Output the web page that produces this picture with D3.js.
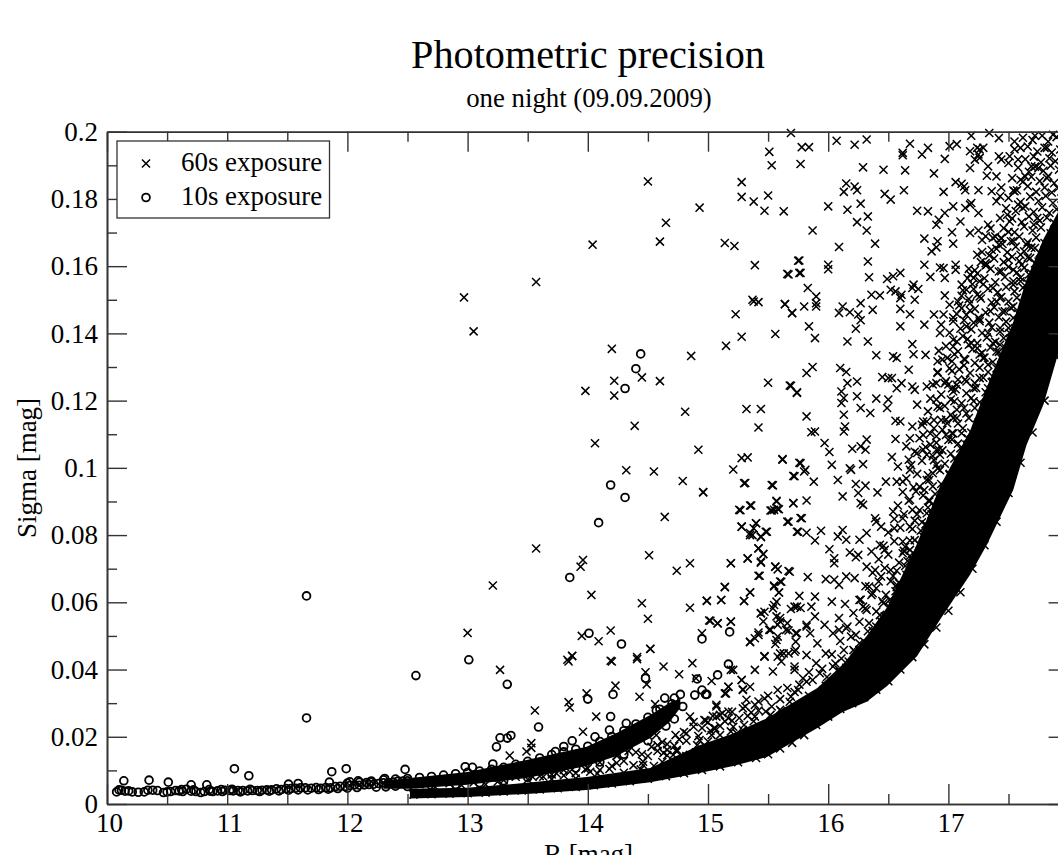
<!DOCTYPE html>
<html lang="en">
<head>
<meta charset="UTF-8">
<title>Photometric precision</title>
<script src="https://d3js.org/d3.v7.min.js"></script>
<style>
  body { margin: 0; background: #fff; overflow: hidden; }
  text { font-family: "Liberation Serif", serif; fill: #000; }
</style>
</head>
<body>
<script>
// tick values
var xMajor = [10,11,12,13,14,15,16,17,18];
var xMinor = [10.5,11.5,12.5,13.5,14.5,15.5,16.5,17.5];
var yMajor = [0,0.02,0.04,0.06,0.08,0.1,0.12,0.14,0.16,0.18,0.2];
var yMinor = [0.01,0.03,0.05,0.07,0.09,0.11,0.13,0.15,0.17,0.19];

// the solid black ridges can't be split into single stars, so only their edges are read off the picture
var band60Mag  = [12.52,12.995,13.49,13.99,14.52,14.93,15.21,15.49,15.91,16.12,16.32,16.49,16.74,16.93,17.18,17.32,17.54,17.65,17.79,17.91,18.05];
var band60Low  = [.0016,.0021,.003,.0042,.0065,.0092,.0113,.014,.0226,.0274,.0304,.0351,.044,.0548,.0682,.0771,.0935,.1068,.1188,.1336,.15];
var band60High = [.0045,.0048,.0063,.008,.0107,.0175,.021,.0255,.0345,.0415,.05,.0585,.0775,.0945,.111,.124,.1435,.156,.168,.176,.185];
var band10Mag  = [12.3,12.52,13.0,13.49,13.99,14.24,14.52,14.68,14.77];
var band10Low  = [.0045,.0045,.0057,.0077,.0113,.0143,.0196,.0244,.0286];
var band10High = [.0068,.0077,.0095,.0131,.017,.0211,.0265,.0301,.0313];

// 60s exposure, lower rim of the ridge
var rim60 = [[12.55,.0028],[12.7,.0029],[12.85,.0031],[13,.0032],[13.15,.0034],[13.3,.0037],[13.45,.004],[13.6,.0043],[13.75,.0047],[13.9,.0051],[14.05,.0056],[14.2,.0061],[14.35,.0068],[14.5,.0075],[14.65,.0083],[14.8,.0092],[14.95,.0101],[15.1,.0112],[15.25,.0124],[15.4,.0137],[15.5,.0148],[15.6,.0165],[15.7,.0182],[15.8,.0205],[15.9,.0235],[16,.026],[16.1,.0283],[16.2,.03],[16.3,.0318],[16.4,.034],[16.5,.0365],[16.6,.04],[16.7,.0437],[16.8,.0475],[16.9,.0525],[17,.0575],[17.1,.063],[17.2,.07],[17.3,.077],[17.4,.084],[17.5,.0925],[17.6,.1015],[17.7,.1105],[17.8,.12],[17.9,.133]];

// 60s exposure, crowded hatching just above the ridge, estimated
var crowd60 = [
[17.62,.1982],[17.7,.1975],[17.78,.1988],[17.83,.1971],[17.9,.1984],[17.95,.1969],[17.55,.1948],[17.66,.1956],[17.74,.1941],[17.8,.1952],[17.86,.1938],[17.93,.1947],[17.64,.1918],[17.71,.1926],[17.77,.1909],[17.84,.1921],[17.89,.1912],[17.96,.1925],[17.58,.1893],[17.67,.1881],[17.72,.1896],[17.79,.1884],[17.85,.1899],[17.92,.1887],
[17.53,.1862],[17.62,.1851],[17.69,.1866],[17.76,.1853],[17.83,.1868],[17.88,.1847],[17.95,.1859],[17.57,.1826],[17.66,.1838],[17.73,.1821],[17.8,.1834],[17.86,.1819],[17.91,.1832],[17.5,.1803],[17.6,.1791],[17.68,.1807],[17.75,.1794],[17.81,.1809],[17.87,.1788],[17.94,.1801],
[17.48,.1772],[17.56,.1764],[17.64,.1778],[17.71,.1761],[17.78,.1775],[17.84,.1758],[17.9,.1769],[17.53,.1742],[17.61,.1731],[17.67,.1748],[17.76,.1735],[17.82,.1744],[17.88,.1729],[17.46,.1713],[17.55,.1701],[17.63,.1718],[17.7,.1706],[17.77,.1715],[17.85,.1698],
[17.44,.1682],[17.52,.1674],[17.59,.1688],[17.66,.1671],[17.73,.1685],[17.8,.1669],[17.4,.1652],[17.49,.1641],[17.56,.1658],[17.63,.1644],[17.69,.1655],[17.76,.1639],[17.38,.1623],[17.46,.1612],[17.53,.1628],[17.59,.1615],[17.66,.1626],[17.72,.1608],
[17.35,.1592],[17.42,.1584],[17.5,.1598],[17.57,.1581],[17.63,.1595],[17.69,.1579],[17.3,.1564],[17.39,.1552],[17.47,.1568],[17.54,.1555],[17.6,.1566],[17.66,.1549],[17.33,.1533],[17.41,.1522],[17.48,.1538],[17.55,.1525],[17.62,.1536],
[17.27,.1504],[17.36,.1492],[17.44,.1508],[17.5,.1495],[17.57,.1506],[17.22,.1473],[17.31,.1462],[17.38,.1478],[17.45,.1465],[17.52,.1476],[17.58,.1459],[17.26,.1443],[17.34,.1432],[17.42,.1448],[17.48,.1435],[17.54,.1446],
[17.19,.1412],[17.28,.1401],[17.36,.1418],[17.43,.1405],[17.5,.1416],[17.16,.1383],[17.24,.1371],[17.32,.1388],[17.39,.1375],[17.46,.1386],[17.52,.1369],[17.2,.1353],[17.28,.1342],[17.35,.1358],[17.42,.1345],[17.48,.1356],
[17.13,.1324],[17.22,.1312],[17.3,.1328],[17.37,.1315],[17.44,.1326],[17.09,.1293],[17.18,.1282],[17.26,.1298],[17.33,.1285],[17.4,.1296],[17.46,.1279],[17.14,.1263],[17.22,.1252],[17.29,.1268],[17.36,.1255],[17.42,.1266],
[17.06,.1234],[17.15,.1222],[17.23,.1238],[17.31,.1225],[17.38,.1236],[17.02,.1203],[17.11,.1192],[17.19,.1208],[17.26,.1195],[17.33,.1206],[17.39,.1189],[17.07,.1173],[17.15,.1162],[17.22,.1178],[17.29,.1165],[17.35,.1176],
[16.98,.1144],[17.08,.1132],[17.17,.1148],[17.25,.1135],[17.31,.1146],[16.95,.1113],[17.04,.1102],[17.12,.1118],[17.19,.1105],[17.26,.1116],[17,.1083],[17.08,.1072],[17.16,.1088],[17.22,.1075],
[16.92,.1054],[17.02,.1042],[17.1,.1058],[17.17,.1045],[17.22,.1056],[16.88,.1023],[16.97,.1012],[17.05,.1028],[17.13,.1015],[17.18,.1026],[16.93,.0993],[17.01,.0982],[17.08,.0998],[17.14,.0985],
[16.84,.0964],[16.94,.0952],[17.02,.0968],[17.09,.0955],[16.8,.0934],[16.89,.0922],[16.97,.0938],[17.04,.0925],[16.84,.0904],[16.92,.0892],[16.99,.0908],[17.05,.0895],
[16.76,.0874],[16.86,.0862],[16.93,.0878],[17,.0865],[16.72,.0843],[16.81,.0832],[16.88,.0848],[16.94,.0835],[16.77,.0813],[16.84,.0802],[16.9,.0818],
[16.68,.0784],[16.76,.0772],[16.83,.0788],[16.88,.0775],[16.63,.0753],[16.72,.0742],[16.79,.0758],[16.85,.0745],[16.66,.0723],[16.74,.0712],[16.8,.0728],
[16.57,.0694],[16.65,.0682],[16.72,.0698],[16.76,.0685],[16.52,.0663],[16.61,.0652],[16.68,.0668],[16.73,.0655],[16.56,.0633],[16.63,.0622],[16.69,.0638],
[16.45,.0604],[16.53,.0592],[16.6,.0608],[16.66,.0595],[16.4,.0573],[16.49,.0562],[16.56,.0578],[16.61,.0565],[16.44,.0543],[16.52,.0532],[16.57,.0548],
[16.33,.0514],[16.41,.0502],[16.48,.0518],[16.53,.0505],[16.3,.0483],[16.38,.0472],[16.45,.0488],[16.49,.0475],[16.22,.0454],[16.31,.0442],[16.39,.0458],[16.44,.0445],
[16.17,.0424],[16.27,.0412],[16.34,.0428],[16.39,.0415],[16.1,.0393],[16.2,.0382],[16.28,.0398],[16.33,.0385],[15.82,.0364],[15.98,.0352],[16.08,.0368],[16.17,.0355],[16.24,.0366],
[15.72,.0333],[15.84,.0322],[15.96,.0338],[16.05,.0325],[16.12,.0336],[15.68,.0304],[15.76,.0292],[15.84,.0308],[15.92,.0295],[16.02,.0306],
[15.2,.0274],[15.33,.0262],[15.42,.0278],[15.52,.0265],[15.61,.0276],[15.7,.0262],[15.79,.0278],[15.87,.0265],[15,.0243],[15.1,.0232],[15.2,.0248],[15.3,.0235],[15.38,.0246],[15.47,.0232],[15.56,.0248],[15.66,.0235],[15.76,.0246],
[14.8,.0214],[14.92,.0202],[15.02,.0218],[15.1,.0205],[15.19,.0216],[15.3,.0204],[15.42,.0218],[15.5,.0205],[14.62,.0184],[14.72,.0173],[14.82,.0188],[14.91,.0175],[15,.0186],[15.12,.0174],[15.2,.0188],[15.3,.0176],
[14.4,.0154],[14.5,.0143],[14.58,.0158],[14.66,.0145],[14.74,.0156],[14.82,.0143],[14.9,.0154],[14.1,.0124],[14.2,.0113],[14.3,.0128],[14.38,.0115],[14.46,.0126],[14.55,.0113],[14.62,.0125],[14.7,.0114],
[13.6,.0098],[13.7,.0088],[13.8,.0101],[13.9,.0092],[13.98,.0103],[14.08,.0091],[14.18,.0104],[14.3,.0093],[14.44,.0103],[13.2,.0078],[13.3,.0071],[13.4,.0081],[13.5,.0073],[13.6,.0083],[13.7,.0074],[13.8,.0085],[13.9,.0076],
[12.6,.0059],[12.72,.0054],[12.85,.0062],[12.95,.0056],[13.05,.0064],[13.15,.0058],[13.25,.0066],
[17.43,.1743],[17.35,.1712],[17.28,.1678],[17.36,.1648],[17.24,.1634],[17.31,.1602],[17.17,.1592],[17.24,.1578],[17.2,.1546],[17.12,.1528],[17.17,.1502],[17.09,.1483],[17.15,.1455],[17.04,.1447],[17.1,.1414],[17.01,.1402],[17.07,.1376],[16.98,.1362],[17.05,.1338],[16.95,.1322],[17.01,.1296],[16.91,.1285],[16.98,.1258],[16.87,.1248],[16.94,.1218],[16.85,.1206],[16.91,.1182],[16.83,.1168],[16.88,.1142],[16.78,.1128],[16.85,.1102],[16.76,.1088],[16.81,.1062],[16.72,.1048],[16.78,.1021],[16.69,.1008],[16.74,.0982],[16.65,.0968],[16.71,.0942],[16.62,.0928],[16.67,.0902],[16.58,.0888],[16.63,.0862],[16.55,.0848],[16.6,.0822],[16.5,.0808],[16.55,.0782],[16.46,.0768],[16.5,.0742],[16.42,.0728],[16.47,.0702],[16.37,.0688],[16.42,.0662],[16.31,.0648],[16.36,.0622],[16.27,.0608],[16.31,.0582],[16.21,.0568],[16.26,.0542],[16.16,.0528],[16.19,.0498],[16.1,.0485],[16.13,.0458],[16.03,.0445],[16.06,.0418],[15.95,.0402],[15.99,.0378],[15.84,.0392],[15.76,.0355],[15.66,.0345],[15.6,.0312],[15.5,.0322],[15.42,.0305],[15.36,.0272],[15.26,.0256],[15.14,.0246],[15.04,.0262],[14.95,.0226],[14.88,.0244],[14.76,.0192],[14.66,.0178],
[17.5,.1702],[17.45,.1666],[17.39,.1688],[17.34,.1632],[17.27,.1612],[17.22,.1588],[17.29,.1546],[17.21,.1532],[17.16,.1564],[17.11,.1512],[17.18,.1468],[17.13,.1439],[17.07,.1458],[17.21,.1432],[17.12,.1392],[17.17,.1366],[17.08,.1346],[17.13,.1305],[17.03,.1288],[17.08,.1262],[17.0,.1248],[17.05,.1198],[16.97,.1184],[17.02,.1158],[16.94,.1142],[16.98,.1098],[16.9,.1075],[16.95,.1052],[16.87,.1035],[16.91,.0998],[16.83,.0978],[16.87,.0945],[16.79,.0918],[16.83,.0882],[16.74,.0862],[16.78,.0838],[16.7,.0818],[16.72,.0785],[16.64,.0765],[16.68,.0738],[16.59,.0718],[16.64,.0708],[16.54,.0678],[16.57,.0645],[16.48,.0622],[16.51,.0585],[16.43,.0562],[16.46,.0535],[16.37,.0515],[16.34,.0472],[16.26,.0458],[16.25,.0425],[16.15,.0405],[16.12,.0382]
];

// 60s exposure, single stars
var stars60 = [
[12.97,.1507],[13.05,.1406],[13.57,.1553],[14.04,.1664],[14.5,.1852],[14.65,.1729],[14.6,.1673],[14.93,.1774],[15.28,.185],[15.28,.1806],[15.38,.1792],[15.5,.181],[15.47,.1765],[15.63,.1763],[15.51,.194],[15.53,.19],[15.69,.1996],[15.14,.1669],[15.22,.166],[15.39,.1603],[15.66,.1577],[15.75,.1616],[15.76,.158],[15.37,.15],[15.38,.1495],[15.42,.1493],[15.64,.1487],[15.7,.146],[15.23,.1457],[15.28,.139],[15.15,.1363],[15.56,.1398],[14.86,.1333],[14.2,.1354],[14.22,.1259],[14.22,.1215],[14.45,.1269],[14.6,.1258],[13.98,.1229],[14.81,.1167],[14.39,.1125],[15.5,.1253],[15.69,.1244],[15.74,.1223],[15.32,.1175],[15.44,.1175],[15.42,.112],
[14.06,.1073],[14.92,.1054],[15.28,.1029],[15.33,.1031],[15.62,.1024],[15.76,.1015],[15.21,.0995],[14.32,.0993],[14.55,.0989],[14.79,.0961],[15.31,.0955],[15.72,.0975],[15.54,.0948],[14.96,.0928],[15.57,.0902],[15.27,.0874],[15.36,.0888],[15.52,.0873],[15.55,.0875],[15.59,.0877],[15.71,.0895],[14.64,.0854],[15.67,.084],[15.77,.0851],[15.28,.0825],[15.4,.0835],[15.38,.082],[15.35,.08],[15.37,.08],[15.49,.081],[15.44,.0794],[15.74,.081],[13.57,.076],[13.96,.0726],[13.94,.0706],[14.51,.074],[14.85,.0716],[14.74,.0694],[15.19,.0716],[15.33,.073],[15.42,.076],[15.46,.0743],[15.44,.0718],[15.56,.0706],[15.58,.0698],[15.68,.0691],[15.43,.0679],[15.55,.065],[15.61,.0661],[15.59,.0629],[15.14,.0646],[13.21,.065],[14.03,.0622],[14.45,.0597],[14.99,.0605],[15.11,.0607],[15.3,.0604],[15.35,.063],[14.85,.0584],[14.5,.0551],[15.57,.0602],[15.54,.0582],[15.44,.0568],[15.47,.0572],[15.69,.058],[15.74,.0587],[15.77,.0583],[15.02,.0545],[15.08,.0537],[15.19,.0543],[15.46,.0543],[15.6,.0553],[15.58,.0533],[15.52,.0518],[15.67,.0516],[13,.0509],[13.95,.05],[14.19,.0516],[14.09,.0484],[14.52,.0462],[14.95,.0508],[15.42,.051],[15.39,.0493],[15.35,.0481],[15.58,.0498],[15.56,.0476],[15.74,.0508],[15.73,.0483],[13.87,.044],[13.83,.0429],[14.19,.0426],[14.41,.0437],[15.47,.044],[15.63,.0448],[15.67,.0448],[15.73,.0458],[15.58,.0438],
[13.27,.0399],[13.56,.0278],[13.53,.0181],[13.53,.0167],[13.49,.0156],[13.35,.0144],[13.84,.0424],[13.87,.0441],[13.84,.0303],[13.85,.0287],[13.99,.0329],[14.07,.026],[14.2,.0424],[14.41,.0431],[14.52,.0461],[14.63,.0409],[14.87,.0419],[14.76,.0386],[14.48,.0392],[14.49,.0356],[14.23,.0352],[14.43,.0319],[13.96,.0215],[14.56,.0297],[14.9,.0374],[15.03,.0366],[15.17,.0349],[15.15,.0329],[15.19,.0399],[15.28,.0369],[15.29,.0341],[15.07,.0295],[15.17,.0275],[15.1,.0265],[15.31,.029],[14.85,.026],[14.88,.023],[14.82,.021],[14.73,.0205],[14.98,.0248],[15.06,.0225],[14.93,.019],[14.98,.017],[14.57,.0205],[14.53,.017],[14.58,.0175],[14.45,.0148],[14.34,.0158],[14.24,.0144],[14.63,.0152],[14.66,.0161],[14.71,.0146],[14.85,.0146],[14.74,.0161],[14.46,.0116],[14,.0106],[14.1,.0101],[14.02,.0096],[13.85,.0096],[13.74,.0091],[13.63,.0081],[13.54,.0081],[14.24,.0122],[14.25,.0146],
[15.78,.1954],[15.84,.1954],[15.77,.1904],[16.07,.1973],[16.22,.1961],[16.32,.1977],[16.68,.1964],[16.62,.1937],[16.62,.193],[16.78,.1932],[16.83,.1952],[17.01,.1957],[17.07,.1963],[17.19,.1988],[17.34,.1996],[17.42,.1981],[17.55,.1971],[17.72,.1988],[17.87,.1991],[16.97,.1919],[17.18,.1942],[17.24,.1952],[17.26,.1947],[17.29,.1952],[17.25,.1932],[17.26,.1922],[17.22,.1917],[17.18,.1892],[17.33,.1897],[17.32,.1869],[17.4,.1867],[17.42,.1927],[17.44,.1917],[17.51,.1927],[17.5,.1907],[17.6,.1952],[17.58,.1917],[16.29,.1894],[16.46,.1887],[16.64,.1885],[16.88,.1876],[16.15,.1846],[16.13,.1821],[16.22,.1837],[16.24,.1826],[16.47,.1815],[16.52,.1798],[16.63,.1826],[16.96,.1821],[17.06,.185],[17.11,.1845],[17.13,.1837],[17.14,.1826],[17.25,.1826],[17.36,.1823],[17.44,.1834],[17.43,.1808],[17.4,.1793],[17.54,.1825],[17.55,.1823],[17.6,.1857],[17.64,.1867],[17.69,.1897],[17.75,.1892],[17.82,.1952],[17.82,.1862],[16,.1778],[16.16,.1768],[16.27,.1786],[16.33,.1748],[16.24,.1731],[16.32,.1706],[16.39,.1667],[16.09,.1657],[15.87,.1706],
[16.74,.1765],[16.83,.1763],[16.92,.1738],[16.97,.1758],[16.9,.1723],[17.04,.1778],[17.18,.1783],[17.19,.1788],[17.25,.1758],[17.14,.1773],[17.1,.1733],[17.03,.1701],[17.18,.1699],[17.25,.1706],[17.31,.1689],[17.37,.1684],[17.33,.1723],[17.44,.1684],[17.49,.1753],[17.51,.1733],[17.58,.1783],[17.62,.1773],[17.74,.1743],[17.71,.1723],[16.8,.1682],[16.91,.1674],[16.9,.1656],[16.86,.1644],[17.04,.1667],[17.28,.1642],[17.42,.1664],[17.54,.1674],[17.65,.1664],[17.6,.1634],[17.72,.1654],[15.76,.1617],[15.67,.1575],[15.77,.158],[16,.1604],[16,.1591],[16.33,.1614],[16.34,.1567],[16.49,.1562],[16.54,.157],[16.6,.158],[16.52,.153],[16.56,.1525],[16.61,.1515],[16.6,.1505],[16.71,.1545],[16.75,.1532],[16.72,.15],[16.7,.1535],[16.8,.1604],[16.85,.1568],[16.93,.1596],[16.96,.1594],[16.97,.1565],[17.06,.1604],[17.06,.1589],[16.97,.1513],[17.18,.1575],[17.21,.1565],[17.26,.1555],[17.11,.1545],[17.15,.153],[17.24,.1515],[17.26,.151],[17.32,.1604],[17.31,.1609],[17.44,.1585],[17.5,.1619],[17.54,.1589],[17.37,.1535],[17.43,.1505],[17.54,.1545],[17.61,.1604],[17.67,.1575],[17.68,.1624],[17.75,.1614],[17.6,.1555],
[15.83,.1535],[15.9,.151],[15.9,.149],[15.9,.148],[15.64,.1487],[15.8,.148],[15.7,.1461],[16.09,.1461],[16.12,.148],[16.18,.1463],[16.27,.149],[16.25,.1456],[16.27,.1439],[16.37,.147],[16.36,.1515],[16.43,.1513],[16.6,.1473],[16.68,.1457],[16.6,.1421],[16.23,.1414],[15.84,.1421],[15.89,.1386],[16.16,.1376],[16.33,.1376],[17.01,.1485],[17.08,.1495],[17.11,.1475],[16.88,.1456],[16.8,.1426],[16.96,.1456],[16.94,.1426],[16.93,.1401],[17.04,.1436],[17.15,.1421],[17.25,.1446],[17.26,.1436],[17.18,.149],[17.35,.1466],[17.4,.1495],[17.47,.1466],[17.54,.148],[17.62,.149],[17.33,.1401],[17.37,.1371],[17.43,.1416],[17.51,.1401],[17.43,.1366],[17.49,.1337],[16.7,.1368],[16.71,.1338],[16.81,.1336],[16.57,.1327],[16.54,.1332],[16.4,.1335],[17.04,.1381],[17.04,.1361],[17.19,.1371],[17.24,.1356],[17.26,.1337],[17.14,.1322],[16.92,.1348],[16.91,.1317],[16.99,.1327],[17.03,.1317],[17.29,.1327],[17.33,.1307],[17.4,.1346],[17.46,.1307],[16.1,.1297],[16.15,.1285],[15.87,.13],[15.82,.1282],[16.16,.1252],[16.24,.1257],[15.68,.1245],[15.74,.1225],[16.45,.127],[16.5,.1267],[16.53,.1267],[16.57,.1237],[16.61,.1252],[16.67,.1292],[16.7,.1242],[16.72,.1232],[16.82,.1242],[16.91,.1282],[16.9,.1252],[16.97,.1252],[17.03,.1237],[17.07,.1247],[17.04,.1227],[17.15,.1257],[17.21,.1237],[17.26,.1267],[17.33,.1237],[17.37,.1257],[17.43,.1277],
[16.11,.1227],[16.13,.1208],[16.11,.1193],[16.24,.1213],[16.27,.1178],[16.13,.1158],[16.4,.1206],[16.49,.1178],[16.35,.1163],[16.5,.1203],[16.74,.1188],[16.9,.1203],[16.93,.1178],[16.82,.1138],[16.99,.1133],[17.07,.1148],[15.82,.1153],[15.86,.1106],[15.89,.1108],[16.14,.1123],[16.13,.1108],[15.97,.1074],[16.01,.1047],[16.2,.1057],[16.27,.1064],[16.31,.1054],[16.32,.1084],[16.56,.114],[16.6,.1138],[16.7,.1123],[16.68,.1088],[16.56,.1086],[16.65,.1064],[16.79,.1138],[16.79,.1098],[16.88,.1118],[16.9,.1094],[17.03,.1084],[17.03,.1103],[17.04,.1148],[17.13,.1178],[17.21,.1198],[17.24,.1128],[17.15,.1069],[17.11,.1103],[16.79,.1054],[16.85,.1069],[16.9,.1054],[16.82,.1039],[16.74,.1044],[16.93,.1039],[16.53,.1032],[16.67,.1024],[16.58,.1004],[16.9,.1009],[15.62,.1026],[15.77,.1014],[15.81,.0994],[16.03,.1009],[16.18,.0999],[16.29,.1011],[17.07,.1019],[17.15,.1044],[17.21,.1029],[17.26,.1088],[17.32,.1128],[17.4,.1168],[17.26,.1009],[17.37,.1029],
[15.71,.0976],[15.8,.0989],[15.88,.0959],[16.08,.0964],[16.19,.0994],[15.3,.0954],[15.53,.0949],[14.96,.0927],[16.23,.0952],[16.31,.0947],[16.25,.0925],[16.12,.0915],[16.41,.0927],[16.48,.0959],[16.57,.0959],[16.62,.0959],[16.68,.0994],[16.76,.0944],[16.82,.0964],[16.87,.0984],[17.01,.0979],[17.12,.0964],[16.73,.093],[16.84,.09],[16.68,.0905],[16.91,.0885],[16.98,.092],[17.07,.0925],[15.26,.0875],[15.35,.0888],[15.57,.09],[15.53,.0873],[15.58,.0878],[15.71,.0895],[15.82,.0903],[16.27,.0895],[16.29,.089],[15.66,.084],[15.78,.085],[15.28,.0825],[15.4,.0835],[15.35,.0806],[15.48,.081],[15.44,.0796],[15.75,.081],[15.82,.0807],[15.89,.0784],[15.94,.0813],[16.12,.0815],[16.08,.0796],[16.15,.0786],[16.26,.0786],[16.32,.0806],[16.39,.085],[16.44,.0825],[16.54,.087],[16.55,.082],[16.4,.084],[16.62,.085],[16.68,.0825],[16.7,.0875],[16.82,.0865],[16.84,.0825],[16.9,.0835],[16.79,.0796],[16.62,.0781],[16.68,.0756],[16.82,.0761],[16.43,.0771],[16.47,.0756],[16.36,.0751],[16.01,.0758],[16.05,.0731],[16.05,.0716],[16.18,.0748],[16.25,.0741],[16.23,.0734],[15.42,.0761],[15.46,.0744],[15.44,.0721],[15.33,.0731],[15.19,.0716],[15.42,.0679],[15.56,.0706],[15.67,.0693],[15.83,.0675],[15.6,.0662],[15.55,.0647],
[15.98,.0669],[16.05,.0667],[16.15,.0677],[16.22,.0672],[16.09,.0652],[16.32,.0706],[16.39,.0696],[16.44,.0677],[16.52,.0696],[16.57,.0652],[16.62,.0746],[16.7,.0726],[15.14,.0645],[14.99,.0604],[15.11,.0607],[15.3,.0604],[15.35,.0629],[15.59,.0629],[15.76,.0619],[15.89,.0617],[16.03,.0602],[16.14,.0595],[16.26,.0607],[16.34,.0647],[16.4,.0642],[16.37,.0627],[16.46,.0597],[16.29,.0587],[16.32,.0577],[16.51,.0607],[16.59,.0657],[16.66,.0637],[15.55,.0592],[15.44,.0567],[15.72,.0587],[15.86,.0587],[15.89,.0558],[15.57,.0558],[15.66,.0538],[15.82,.0533],[15.97,.0533],[16.09,.0553],[16.15,.0523],[16.09,.0518],[16.34,.0538],[16.47,.0558],[16.54,.0577],[16.4,.0528],[16.23,.0503],[15.01,.0546],[15.08,.0538],[15.19,.0542],[15.35,.0483],[15.42,.0503],[15.51,.0518],[15.6,.0543],[15.65,.0518],[15.73,.0508],[15.57,.0488],[15.82,.0528],[15.91,.0478],[16.04,.0508],[16.26,.0478],[16.21,.0458],[15.85,.0508],[15.47,.0438],[15.6,.0448],[15.72,.0453],[15.82,.0443],[15.98,.0448],[16.11,.0433],[16.23,.0419],[15.61,.0424],[15.72,.0409],[16.04,.0409],[15.9,.0419],[15.39,.0399],[15.54,.0394],[15.21,.0399],[15.28,.0369],[15.35,.0349],[15.29,.0339],[15.17,.0349],[15.14,.0329],[15.58,.0339],[15.72,.0399],[15.79,.0374],[15.87,.0369],[15.93,.0389],[16.09,.0399],[16.07,.0369],[15.69,.0319],[15.75,.0339],[15.32,.031],[15.47,.0314],[15.39,.0295],[15.29,.0285],[15.07,.029],[15.12,.027],[15.17,.0255],[15.07,.026],[15.53,.029],[15.6,.028],[14.97,.025],[15.05,.0225],[15.21,.023],[15.29,.022],[15.39,.026],[15.48,.0275],[15.6,.0255],[15.03,.0205],[15.24,.021]
];

// 10s exposure, single stars
var stars10 = [
[14.44,.1339],[14.4,.1295],[14.31,.1236],[14.19,.0949],[14.31,.0912],[14.09,.0837],[13.85,.0674],[14.01,.0508],[14.28,.0476],[14.95,.0491],[15.18,.0512],[13.01,.0429],[11.66,.0619],[11.66,.0256],[12.57,.0382],[13.33,.0356],[13.27,.0197],[13.24,.017],[13.33,.0196],[13.36,.0204],[13.59,.0229],[14,.0312],[14.21,.0326],[14.19,.026],[14.48,.0374],[14.64,.0315],[14.72,.0315],[14.77,.0326],[14.79,.029],[14.72,.0253],[14.89,.0324],[14.91,.0372],[14.95,.0339],[14.98,.0326],[14.99,.0326],[15.08,.0384],[15.17,.0416],[12.48,.0103],[12.98,.0111],[13.04,.0109],[13.21,.0119],[13.73,.0156],[13.8,.0171],[13.87,.0188],[14.06,.02],[14.18,.022],[14.32,.024],[14.57,.0278],
[10.14,.0069],[10.35,.0071],[10.51,.0065],[10.7,.0057],[10.83,.0057],[11.06,.0105],[11.18,.0084],[11.51,.0059],[11.59,.0061],[11.85,.0065],[11.87,.0096],[11.99,.0105],[12.31,.0076],[12.02,.0066],[12.09,.0069],[12.19,.0066],
[10.08,.0036],[10.1,.0042],[10.12,.0041],[10.15,.0038],[10.18,.0039],[10.21,.0036],[10.26,.0035],[10.31,.0036],[10.34,.0041],[10.38,.0041],[10.42,.004],[10.47,.0034],[10.5,.0036],[10.53,.0037],[10.57,.004],[10.6,.0039],[10.63,.0037],[10.66,.0044],[10.7,.0038],[10.72,.0042],[10.78,.0034],[10.81,.0037],[10.85,.0043],[10.88,.0037],[10.92,.0039],[10.95,.0043],[10.98,.0041],[11.02,.004],[11.05,.0039],[11.09,.004],[11.13,.004],[11.17,.0039],[11.21,.004],[11.25,.004],[11.29,.0041],[11.33,.0042],[11.37,.0042],[11.41,.0045],[11.45,.0043],[11.49,.0046],[11.53,.0046],[11.57,.0047],[11.61,.0048],[11.65,.0048],[11.7,.0047],[11.74,.0049],[11.78,.0047],[11.82,.0049],[11.86,.0048],[11.9,.0052],[11.94,.0053],[11.98,.0052],[12.02,.0055],[12.06,.0057],[12.1,.0056],[12.14,.0057],[12.18,.0058],[12.22,.0059],[12.26,.0061],[12.3,.0063],[12.34,.0063],[12.38,.0065],[12.42,.0068],[12.46,.0068],[12.5,.0069]
];

// 10s exposure, second layer of the crowded sequence and rims of its ridge, estimated
var crowd10 = [
[10.62,.0043],[10.74,.0037],[10.86,.0038],[10.96,.0037],[11.04,.0044],[11.11,.0036],[11.19,.0044],[11.27,.0037],[11.35,.0038],[11.43,.0039],[11.51,.0041],[11.59,.0042],[11.67,.0042],[11.76,.0043],[11.84,.0044],[11.92,.0046],[12,.0047],[12.08,.0049],[12.16,.0064],[12.24,.005],[12.32,.0051],[12.4,.0053],
[12,.0062],[12.1,.0065],[12.2,.0068],[12.3,.0072],[12.4,.0074],[12.5,.0076],[12.6,.0079],[12.7,.0082],[12.8,.0086],[12.9,.009],[13,.0094],[13.1,.0098],[13.2,.0103],[13.3,.0109],[13.4,.0118],[13.5,.0127],[13.6,.0137],[13.7,.0147],[13.8,.0155],[13.9,.0163],[14,.0172],[14.1,.0186],[14.2,.0201],[14.3,.0218],[14.4,.0238],[14.5,.0258],[14.6,.0282],[14.7,.0298],
[12.5,.0052],[12.7,.0055],[12.9,.0058],[13.1,.0063],[13.3,.0069],[13.5,.0079],[13.7,.0092],[13.9,.0107],[14.1,.0125],[14.3,.0148],[14.5,.0188],[14.65,.0232]
];

var legendLabels = ["60s exposure","10s exposure"];

var width = 1058, height = 855;
var svg = d3.select("body").append("svg").attr("width",width).attr("height",height).style("display","block");

var x = d3.scaleLinear().domain([10,18]).range([107,1068.6]);
var y = d3.scaleLinear().domain([0,0.2]).range([804,131.7]);
var axisColor = "#333";

// titles
svg.append("text").attr("x",588).attr("y",68).attr("text-anchor","middle").style("font-size","40.2px").text("Photometric precision");
svg.append("text").attr("x",589).attr("y",107).attr("text-anchor","middle").style("font-size","26.8px").text("one night (09.09.2009)");
svg.append("text").attr("x",588.5).attr("y",863).attr("text-anchor","middle").style("font-size","27px").text("R [mag]");
svg.append("text").attr("transform","translate(36,468) rotate(-90)").attr("text-anchor","middle").style("font-size","27px").text("Sigma [mag]");

// ridges as areas, scale driven
var ridge = function(mags,low,high){
    return d3.area().x((d,i)=>x(mags[i])).y0((d,i)=>y(low[i])).y1((d,i)=>y(high[i]))(mags);
};
svg.append("path").attr("d",ridge(band60Mag,band60Low,band60High)).attr("fill","#000");
svg.append("path").attr("d",ridge(band10Mag,band10Low,band10High)).attr("fill","#000");

// markers
var cross = d3.symbol(d3.symbolTimes,44);
svg.append("g").selectAll("path").data(stars60.concat(crowd60,rim60)).join("path")
    .attr("d",cross)
    .attr("transform",d=>"translate("+x(d[0])+","+y(d[1])+")")
    .attr("fill","none").attr("stroke","#000").attr("stroke-width",1.5);

svg.append("g").selectAll("circle").data(stars10.concat(crowd10)).join("circle")
    .attr("cx",d=>x(d[0])).attr("cy",d=>y(d[1])).attr("r",3.9)
    .attr("fill","none").attr("stroke","#000").attr("stroke-width",1.8);

// axes, ticks point inwards on all four sides
var fmt = d=>d<18 ? String(+d.toFixed(2)) : "";
var styleAxis = function(g){
    g.selectAll("line").attr("stroke",axisColor).attr("stroke-width",1.4);
    g.selectAll(".domain").attr("stroke",axisColor).attr("stroke-width",1.6);
    g.selectAll("text").style("font-size","27px").style("font-family","'Liberation Serif', serif");
};
var makeAxis = function(fn,scale,vals,len,pos,lab){
    var a = fn(scale).tickValues(vals).tickSizeInner(-len).tickSizeOuter(0).tickPadding(9);
    a.tickFormat(lab ? fmt : "");
    var g = svg.append("g").attr("transform",pos).call(a);
    styleAxis(g);
    return g;
};
var bottomG = makeAxis(d3.axisBottom,x,xMajor,20,"translate(0,804)",true);
bottomG.selectAll("text").attr("dx",2);
makeAxis(d3.axisBottom,x,xMinor,10,"translate(0,804)",false);
makeAxis(d3.axisTop,x,xMajor,20,"translate(0,131.7)",false);
makeAxis(d3.axisTop,x,xMinor,10,"translate(0,131.7)",false);
makeAxis(d3.axisLeft,y,yMajor,20,"translate(107,0)",true);
makeAxis(d3.axisLeft,y,yMinor,10,"translate(107,0)",false);
makeAxis(d3.axisRight,y,yMajor,20,"translate(1068.6,0)",false);
makeAxis(d3.axisRight,y,yMinor,10,"translate(1068.6,0)",false);

// legend box sits on top of the ticks
var legend = svg.append("g");
legend.append("rect").attr("x",117).attr("y",141).attr("width",212.5).attr("height",77)
    .attr("fill","#fff").attr("stroke",axisColor).attr("stroke-width",1.3);
legend.append("path").attr("d",cross).attr("transform","translate(146,163.5)")
    .attr("fill","none").attr("stroke","#000").attr("stroke-width",1.5);
legend.append("circle").attr("cx",146).attr("cy",197.5).attr("r",3.9)
    .attr("fill","none").attr("stroke","#000").attr("stroke-width",1.8);
legend.selectAll("text").data(legendLabels).join("text")
    .attr("x",181).attr("y",(d,i)=>171+i*33.5).style("font-size","26.9px").text(d=>d);
</script>
</body>
</html>
